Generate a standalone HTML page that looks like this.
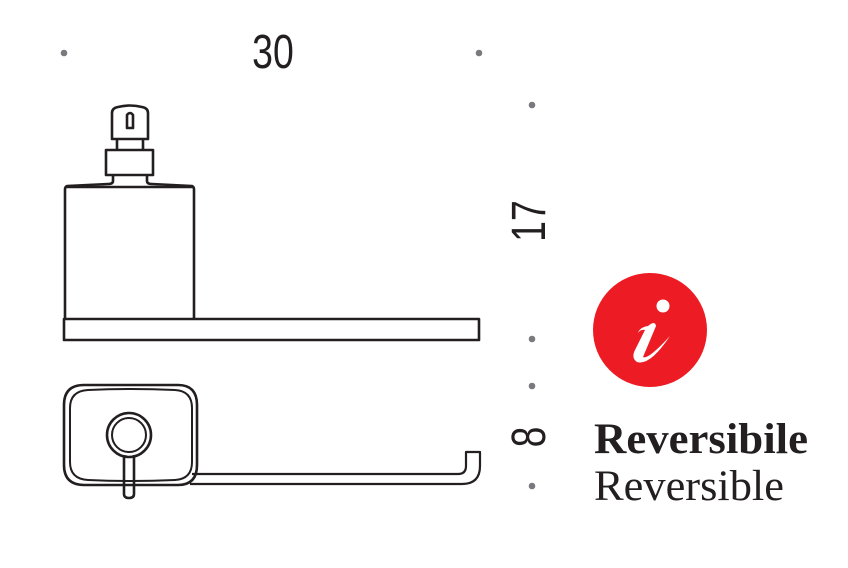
<!DOCTYPE html>
<html><head><meta charset="utf-8"><style>
html,body{margin:0;padding:0;background:#fff;width:848px;height:568px;overflow:hidden}
</style></head><body>
<svg width="848" height="568" viewBox="0 0 848 568" xmlns="http://www.w3.org/2000/svg">
<g fill="#7a7a7e">
<circle cx="64" cy="53" r="3.3"/><circle cx="479" cy="53" r="3.3"/>
<circle cx="532" cy="105" r="3.3"/><circle cx="532" cy="339" r="3.3"/>
<circle cx="532" cy="386" r="3.3"/><circle cx="532" cy="486" r="3.3"/>
</g>
<text x="273" y="68" font-family="Liberation Sans, sans-serif" font-size="48" fill="#231f20" text-anchor="middle" transform="translate(273 0) scale(0.78 1) translate(-273 0)">30</text>
<text transform="translate(545 221) rotate(-90) scale(0.78 1)" font-family="Liberation Sans, sans-serif" font-size="48" fill="#231f20" text-anchor="middle">17</text>
<text transform="translate(545 437) rotate(-90) scale(0.78 1)" font-family="Liberation Sans, sans-serif" font-size="48" fill="#231f20" text-anchor="middle">8</text>
<g fill="none" stroke="#231f20" stroke-width="2.6" stroke-linejoin="round">
<path d="M112 139 V113 Q112 108 118 107 Q130 104 142 107 Q148 108 148 113 V139 Z"/>
<path d="M127 128 V115 Q130 111 133 115 V128 Z"/>
<path d="M117 139 V150 M143 139 V150"/>
<rect x="106" y="150" width="47" height="25"/>
<path d="M113 175 V181 Q113 184 108 184 L67 186 Q65 187 65 189 V319 M147 175 V181 Q147 184 152 184 L192 186 Q194 187 194 189 V319"/>
<path d="M65 187 H194"/>
<rect x="64" y="319" width="415" height="21"/>
<path d="M64 405 Q64 385 84 385 H178 Q197 385 197 405 V465 Q197 485 178 485 H84 Q64 485 64 465 Z"/>
<path d="M70 408 Q70 391 88 390 Q131 388 175 390 Q192 391 192 408 V462 Q192 479 175 480 Q131 482 88 480 Q70 479 70 462 Z" stroke-width="2"/>
<circle cx="129" cy="435" r="22"/>
<circle cx="129" cy="435" r="17" stroke-width="2"/>
<path d="M124 455 V494 Q124 498 129 498 Q134 498 134 494 V455"/>
<path d="M192 474 H458 Q466 474 466 466 V452 H480 V466 Q480 484 462 484 H190" stroke-width="2.2"/>
</g>
<circle cx="650" cy="330" r="57" fill="#ed1c24"/>
<circle cx="663" cy="306" r="6.5" fill="#fff"/>
<path d="M648 326 Q655 320 656 326 L643 357 Q648 360 670 336 Q650 366 637 362 Q631 358 635 350 L645 330 Q641 329 638 333 Q640 327 648 326 Z" fill="#fff"/>
<text x="594" y="453" font-family="Liberation Serif, serif" font-size="43" font-weight="bold" fill="#231f20" textLength="214" lengthAdjust="spacingAndGlyphs">Reversibile</text>
<text x="594" y="500" font-family="Liberation Serif, serif" font-size="43" fill="#231f20" textLength="190" lengthAdjust="spacingAndGlyphs">Reversible</text>
</svg>
</body></html>
